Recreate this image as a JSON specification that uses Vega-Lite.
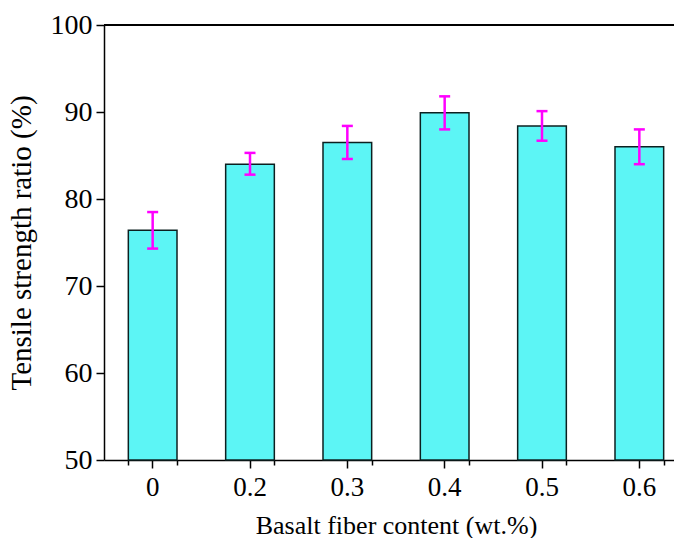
{
  "$schema": "https://vega.github.io/schema/vega-lite/v6.json",
  "width": 570,
  "height": 435,
  "autosize": {"type": "none"},
  "padding": {"left": 104, "top": 25, "right": 0, "bottom": 78},
  "background": "white",
  "config": {
    "view": {"stroke": null},
    "font": "'Liberation Serif', 'Times New Roman', 'DejaVu Serif', serif",
    "axis": {
      "labelFont": "'Liberation Serif', 'Times New Roman', 'DejaVu Serif', serif",
      "titleFont": "'Liberation Serif', 'Times New Roman', 'DejaVu Serif', serif",
      "labelColor": "black",
      "titleColor": "black",
      "domainColor": "black",
      "tickColor": "black",
      "domainWidth": 1.5,
      "tickWidth": 1.5,
      "grid": false,
      "titleFontWeight": "normal"
    }
  },
  "data": {
    "values": [
      {"content": "0", "ratio": 76.4, "lo": 74.3, "hi": 78.5},
      {"content": "0.2", "ratio": 84.0, "lo": 82.8, "hi": 85.3},
      {"content": "0.3", "ratio": 86.5, "lo": 84.6, "hi": 88.4},
      {"content": "0.4", "ratio": 89.9, "lo": 88.0, "hi": 91.8},
      {"content": "0.5", "ratio": 88.4, "lo": 86.7, "hi": 90.1},
      {"content": "0.6", "ratio": 86.0, "lo": 84.0, "hi": 88.0}
    ]
  },
  "layer": [
    {
      "mark": {"type": "tick", "opacity": 0},
      "encoding": {
        "x": {
          "field": "content", "type": "nominal", "sort": null,
          "scale": {"range": [0, 584], "paddingInner": 0.5, "paddingOuter": 0.25},
          "axis": {
            "orient": "bottom", "tickBand": "extent", "labels": false, "domain": false,
            "title": null, "tickSize": 5, "tickWidth": 1.5
          }
        },
        "y": {"field": "ratio", "type": "quantitative"}
      }
    },
    {
      "mark": {"type": "bar", "fill": "#5cf5f5", "stroke": "#0c2020", "strokeWidth": 1.5},
      "encoding": {
        "x": {
          "field": "content", "type": "nominal", "sort": null,
          "axis": {
            "orient": "bottom",
            "title": "Basalt fiber content (wt.%)", "titleFontSize": 26, "titlePadding": 12,
            "labelFontSize": 27, "labelAngle": 0, "tickSize": 8, "labelPadding": 6
          }
        },
        "y": {
          "field": "ratio", "type": "quantitative",
          "scale": {"domain": [50, 100], "nice": false, "zero": false},
          "axis": {
            "title": "Tensile strength ratio (%)", "titleFontSize": 29, "titlePadding": 14,
            "labelFontSize": 28, "tickSize": 8, "labelPadding": 4,
            "values": [50, 60, 70, 80, 90, 100]
          }
        },
        "y2": {"datum": 50}
      }
    },
    {
      "mark": {"type": "rule", "color": "#ff00ff", "strokeWidth": 2.5},
      "encoding": {
        "x": {"field": "content", "type": "nominal", "sort": null, "axis": null},
        "y": {"field": "lo", "type": "quantitative"},
        "y2": {"field": "hi"}
      }
    },
    {
      "mark": {"type": "tick", "color": "#ff00ff", "thickness": 2.5, "size": 11, "opacity": 1},
      "encoding": {
        "x": {"field": "content", "type": "nominal", "sort": null, "axis": null},
        "y": {"field": "lo", "type": "quantitative"}
      }
    },
    {
      "mark": {"type": "tick", "color": "#ff00ff", "thickness": 2.5, "size": 11, "opacity": 1},
      "encoding": {
        "x": {"field": "content", "type": "nominal", "sort": null, "axis": null},
        "y": {"field": "hi", "type": "quantitative"}
      }
    },
    {
      "mark": {"type": "rule", "color": "black", "strokeWidth": 1.5},
      "encoding": {"y": {"datum": 100}}
    }
  ],
  "resolve": {"axis": {"x": "independent"}}
}
